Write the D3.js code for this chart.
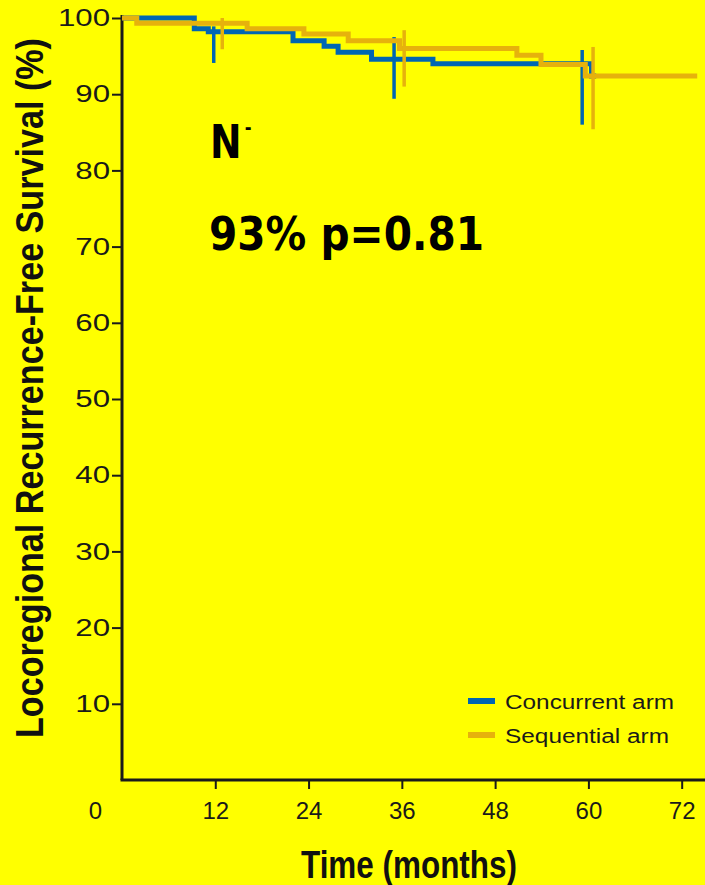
<!DOCTYPE html>
<html>
<head>
<meta charset="utf-8">
<script src="https://cdn.jsdelivr.net/npm/d3@7"></script>
<style>
  html, body { margin: 0; padding: 0; background: #ffff00; }
  svg { display: block; }
</style>
</head>
<body>
<svg id="chart" width="705" height="885"></svg>
<script>
// Kaplan-Meier step data (time in months, survival in %)
const concurrentTimes = [0, 9.3, 11.1, 22.0, 26.0, 27.8, 32.1, 40.0, 60.4];
const concurrentSurv  = [100, 98.6, 98.2, 97.0, 96.3, 95.5, 94.6, 94.0, 92.4];
const concurrentEnd   = 61.0;

const sequentialTimes = [0, 1.9, 16.1, 23.4, 29.1, 35.7, 50.8, 53.9, 59.6];
const sequentialSurv  = [100, 99.3, 98.6, 97.9, 97.0, 96.0, 95.1, 93.9, 92.4];
const sequentialEnd   = 74.0;

// Confidence interval bars at 1, 3 and 5 years
const concurrentCiTimes = [11.8, 35.0, 59.2];
const concurrentCiLower = [94.1, 89.4, 86.0];
const concurrentCiUpper = [98.9, 97.5, 95.8];

const sequentialCiTimes = [12.9, 36.3, 60.6];
const sequentialCiLower = [95.9, 91.0, 85.4];
const sequentialCiUpper = [100.0, 98.4, 96.2];

// Axis ticks
const xTicks = [0, 12, 24, 36, 48, 60, 72];
const yTicks = [10, 20, 30, 40, 50, 60, 70, 80, 90, 100];

const armNames  = ["Concurrent arm", "Sequential arm"];
const armColors = ["#0066b3", "#e6b20c"];

const W = 705, H = 885;
const svg = d3.select("#chart");
svg.append("rect").attr("width", W).attr("height", H).attr("fill", "#ffff00");

const x = d3.scaleLinear().domain([0, 75]).range([122, 705]);
const y = d3.scaleLinear().domain([0, 100]).range([780, 18]);

const tickFont = "'Liberation Sans', Arial, Helvetica, sans-serif";
const ink = "#1a1a1a";

// Y axis
const yAxis = svg.append("g")
  .attr("transform", `translate(${x(0)},0)`)
  .call(d3.axisLeft(y).tickValues(yTicks).tickSize(10).tickSizeOuter(0).tickPadding(2));
yAxis.select(".domain").attr("stroke", ink).attr("stroke-width", 3)
  .attr("d", `M0,${y(0)}V15`);
yAxis.selectAll(".tick line").attr("stroke", ink).attr("stroke-width", 2);
yAxis.selectAll(".tick text")
  .attr("font-family", tickFont).attr("font-size", 24).attr("fill", ink)
  .attr("x", -12 / 1.3).attr("transform", "scale(1.3,1)");

// X axis
const xAxis = svg.append("g")
  .attr("transform", `translate(0,${y(0)})`)
  .call(d3.axisBottom(x).tickValues(xTicks).tickSize(9).tickSizeOuter(0).tickPadding(13));
xAxis.select(".domain").attr("stroke", ink).attr("stroke-width", 3)
  .attr("d", `M${x(0) - 1.5},0H705`);
xAxis.selectAll(".tick line").attr("stroke", ink).attr("stroke-width", 2);
xAxis.selectAll(".tick text")
  .attr("font-family", tickFont).attr("font-size", 24).attr("fill", ink);
// origin label sits left of the corner, without a tick mark
xAxis.selectAll(".tick").filter(d => d === 0).each(function () {
  d3.select(this).select("line").remove();
  d3.select(this).select("text").attr("x", -27);
});
xAxis.attr("font-family", null).attr("font-size", null);
yAxis.attr("font-family", null).attr("font-size", null);

// Axis titles (bold, narrow and tall)
svg.append("text")
  .attr("x", 301).attr("y", 878)
  .attr("font-family", "'Liberation Sans', Arial, sans-serif")
  .attr("font-weight", "bold").attr("font-size", 39).attr("fill", "#111")
  .attr("textLength", 216).attr("lengthAdjust", "spacingAndGlyphs")
  .text("Time (months)");

svg.append("text")
  .attr("transform", "translate(43,738) rotate(-90) scale(1,1.185)")
  .attr("font-family", "'Liberation Sans', Arial, sans-serif")
  .attr("font-weight", "bold").attr("font-size", 33).attr("fill", "#111")
  .attr("textLength", 700).attr("lengthAdjust", "spacingAndGlyphs")
  .text("Locoregional Recurrence-Free Survival (%)");

// Survival curves
const line = d3.line().x(d => x(d[0])).y(d => y(d[1])).curve(d3.curveStepAfter);

function drawArm(times, surv, end, ciT, ciL, ciU, color) {
  const pts = times.map((t, i) => [t, surv[i]]);
  pts.push([end, surv[surv.length - 1]]);
  svg.append("path").datum(pts)
    .attr("d", line).attr("fill", "none")
    .attr("stroke", color).attr("stroke-width", 5)
    .attr("stroke-linejoin", "miter").attr("stroke-linecap", "butt");
  svg.append("g").selectAll("line").data(ciT).join("line")
    .attr("x1", d => x(d)).attr("x2", d => x(d))
    .attr("y1", (d, i) => y(ciU[i])).attr("y2", (d, i) => y(ciL[i]))
    .attr("stroke", color).attr("stroke-width", 3.5);
}

drawArm(concurrentTimes, concurrentSurv, concurrentEnd,
        concurrentCiTimes, concurrentCiLower, concurrentCiUpper, armColors[0]);
drawArm(sequentialTimes, sequentialSurv, sequentialEnd,
        sequentialCiTimes, sequentialCiLower, sequentialCiUpper, armColors[1]);

// Annotations
const noteFont = "'Comic Sans MS', 'DejaVu Sans', sans-serif";
const nodeLabel = svg.append("text")
  .attr("transform", "translate(210,158) scale(0.82,1)")
  .attr("font-family", noteFont).attr("font-weight", "bold")
  .attr("font-size", 46).attr("fill", "#000");
nodeLabel.append("tspan").text("N");
nodeLabel.append("tspan")
  .attr("dx", 4).attr("dy", -24).attr("font-size", 20).text("-");

svg.append("text")
  .attr("x", 209).attr("y", 250)
  .attr("font-family", noteFont).attr("font-weight", "bold")
  .attr("font-size", 46).attr("fill", "#000")
  .attr("textLength", 275).attr("lengthAdjust", "spacingAndGlyphs")
  .text("93% p=0.81");

// Legend
const legendY = [701, 735];
const legendW = [169, 164];
const legend = svg.append("g");
armNames.forEach((name, i) => {
  legend.append("line")
    .attr("x1", 468).attr("x2", 495)
    .attr("y1", legendY[i]).attr("y2", legendY[i])
    .attr("stroke", armColors[i]).attr("stroke-width", 6);
  legend.append("text")
    .attr("x", 505).attr("y", legendY[i] + 8)
    .attr("font-family", tickFont).attr("font-size", 20).attr("fill", ink)
    .attr("textLength", legendW[i]).attr("lengthAdjust", "spacingAndGlyphs")
    .text(name);
});
</script>
</body>
</html>
